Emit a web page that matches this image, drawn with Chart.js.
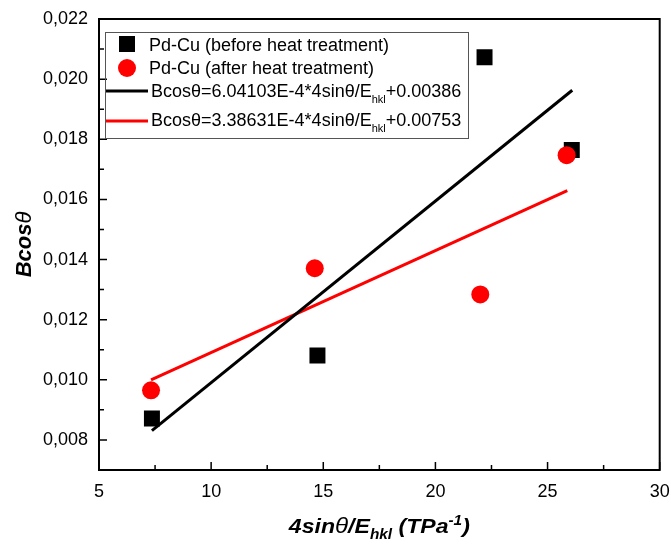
<!DOCTYPE html>
<html>
<head>
<meta charset="utf-8">
<script src="https://cdn.jsdelivr.net/npm/chart.js@4.4.1/dist/chart.umd.min.js"></script>
<style>
  html, body { margin: 0; padding: 0; background: #fff; }
  #wrap { width: 671px; height: 545px; position: relative; }
</style>
</head>
<body>
<div id="wrap"><canvas id="chart"></canvas></div>
<script>
const FONT = '"Liberation Sans", Arial, sans-serif';

// measured points
const beforeX = [7.36, 14.74, 22.19, 26.08];
const beforeY = [0.00871, 0.01081, 0.02073, 0.01764];
const afterX = [7.32, 14.62, 22.0, 25.85];
const afterY = [0.00965, 0.01371, 0.01284, 0.01747];

// linear fit end points
const fitBeforeX = [7.36, 26.1];
const fitBeforeY = [0.00831, 0.01963];
const fitAfterX = [7.32, 25.88];
const fitAfterY = [0.0100, 0.01629];

// axis ticks
const xMajor = [5, 10, 15, 20, 25, 30];
const xMinor = [7.5, 12.5, 17.5, 22.5, 27.5];
const yMajor = [0.008, 0.010, 0.012, 0.014, 0.016, 0.018, 0.020, 0.022];
const yMinor = [0.007, 0.009, 0.011, 0.013, 0.015, 0.017, 0.019, 0.021];

const toPoints = (xs, ys) => xs.map((x, i) => ({ x, y: ys[i] }));

// draw text pieces with sub/superscripts, returns width
function drawRich(ctx, parts, x, y, measureOnly) {
  let cx = x;
  for (const p of parts) {
    ctx.font = p.font;
    const w = ctx.measureText(p.t).width;
    if (!measureOnly) ctx.fillText(p.t, cx, y + (p.dy || 0));
    cx += w;
  }
  return cx - x;
}

const framePlugin = {
  id: 'frame',
  afterDraw(chart) {
    const { ctx, chartArea: a, scales } = chart;
    const xs = scales.x, ys = scales.y;
    ctx.save();
    ctx.strokeStyle = '#000';
    ctx.lineWidth = 2;
    ctx.strokeRect(a.left, a.top, a.right - a.left, a.bottom - a.top);

    ctx.lineWidth = 1.5;
    ctx.beginPath();
    xMajor.forEach(v => { const p = xs.getPixelForValue(v); ctx.moveTo(p, a.bottom); ctx.lineTo(p, a.bottom - 8); });
    xMinor.forEach(v => { const p = xs.getPixelForValue(v); ctx.moveTo(p, a.bottom); ctx.lineTo(p, a.bottom - 5); });
    yMajor.forEach(v => { const p = ys.getPixelForValue(v); ctx.moveTo(a.left, p); ctx.lineTo(a.left + 8, p); });
    yMinor.forEach(v => { const p = ys.getPixelForValue(v); ctx.moveTo(a.left, p); ctx.lineTo(a.left + 5, p); });
    ctx.stroke();

    ctx.fillStyle = '#000';
    ctx.textBaseline = 'alphabetic';
    ctx.textAlign = 'left';

    // x axis title, stretched a little to the original's width
    const bi = 'italic bold 21px ' + FONT;
    const biSmall = 'italic bold 14px ' + FONT;
    const xParts = [
      { t: '4sin', font: bi },
      { t: 'θ', font: 'italic 22px ' + FONT },
      { t: '/E', font: bi },
      { t: 'hkl', font: biSmall, dy: 6 },
      { t: ' (TPa', font: bi },
      { t: '-1', font: biSmall, dy: -8 },
      { t: ')', font: bi },
    ];
    const xw = drawRich(ctx, xParts, 0, 0, true);
    const sx = 181 / xw;
    ctx.save();
    ctx.translate((a.left + a.right) / 2 - 90.5, 533);
    ctx.scale(sx, 1);
    drawRich(ctx, xParts, 0, 0);
    ctx.restore();

    // y axis title
    const yParts = [
      { t: 'Bcos', font: 'italic bold 22px ' + FONT },
      { t: 'θ', font: 'italic 22px ' + FONT },
    ];
    ctx.save();
    ctx.translate(31, (a.top + a.bottom) / 2);
    ctx.rotate(-Math.PI / 2);
    const yw = drawRich(ctx, yParts, 0, 0, true);
    drawRich(ctx, yParts, -yw / 2, 0);
    ctx.restore();

    // legend
    ctx.lineWidth = 1;
    ctx.strokeStyle = '#555';
    ctx.strokeRect(105.5, 32.5, 363, 106);

    ctx.fillStyle = '#000';
    ctx.fillRect(119, 36, 16, 16);
    ctx.fillStyle = '#ff0000';
    ctx.beginPath();
    ctx.arc(127, 68, 9, 0, Math.PI * 2);
    ctx.fill();

    ctx.lineWidth = 3;
    ctx.strokeStyle = '#000';
    ctx.beginPath(); ctx.moveTo(106, 91); ctx.lineTo(148, 91); ctx.stroke();
    ctx.strokeStyle = '#ff0000';
    ctx.beginPath(); ctx.moveTo(106, 121); ctx.lineTo(148, 121); ctx.stroke();

    ctx.fillStyle = '#000';
    const lf = '18px ' + FONT;
    const ls = '11px ' + FONT;
    drawRich(ctx, [{ t: 'Pd-Cu (before heat treatment)', font: lf }], 149, 51);
    drawRich(ctx, [{ t: 'Pd-Cu (after heat treatment)', font: lf }], 149, 74);
    drawRich(ctx, [
      { t: 'Bcosθ=6.04103E-4*4sinθ/E', font: lf },
      { t: 'hkl', font: ls, dy: 6 },
      { t: '+0.00386', font: lf },
    ], 151, 97);
    drawRich(ctx, [
      { t: 'Bcosθ=3.38631E-4*4sinθ/E', font: lf },
      { t: 'hkl', font: ls, dy: 6 },
      { t: '+0.00753', font: lf },
    ], 151, 126);
    ctx.restore();
  },
};

new Chart(document.getElementById('chart'), {
  type: 'scatter',
  data: {
    datasets: [
      {
        label: 'Pd-Cu (before heat treatment)',
        data: toPoints(beforeX, beforeY),
        pointStyle: 'rect',
        pointRadius: 11.3,
        backgroundColor: '#000',
        borderWidth: 0,
        order: 2,
      },
      {
        label: 'Pd-Cu (after heat treatment)',
        data: toPoints(afterX, afterY),
        pointStyle: 'circle',
        pointRadius: 9,
        backgroundColor: '#ff0000',
        borderWidth: 0,
        order: 1,
      },
      {
        label: 'Bcosθ=6.04103E-4*4sinθ/Ehkl+0.00386',
        data: toPoints(fitBeforeX, fitBeforeY),
        showLine: true,
        pointRadius: 0,
        borderColor: '#000',
        borderWidth: 3,
        order: 3,
      },
      {
        label: 'Bcosθ=3.38631E-4*4sinθ/Ehkl+0.00753',
        data: toPoints(fitAfterX, fitAfterY),
        showLine: true,
        pointRadius: 0,
        borderColor: '#ff0000',
        borderWidth: 3,
        order: 4,
      },
    ],
  },
  options: {
    responsive: true,
    maintainAspectRatio: false,
    animation: false,
    layout: { padding: { top: 19, right: 11, left: 0, bottom: 0 } },
    plugins: {
      legend: { display: false },
      tooltip: { enabled: false },
    },
    scales: {
      x: {
        type: 'linear',
        min: 5,
        max: 30,
        afterBuildTicks: s => { s.ticks = xMajor.map(v => ({ value: v })); },
        afterFit: s => { s.height = 75; s.paddingRight = 0; s.paddingLeft = 0; },
        grid: { display: false, drawTicks: false },
        border: { display: false },
        ticks: { padding: 11, color: '#000', font: { family: FONT, size: 18 } },
      },
      y: {
        type: 'linear',
        min: 0.007,
        max: 0.022,
        afterBuildTicks: s => { s.ticks = yMajor.map(v => ({ value: v })); },
        afterFit: s => { s.width = 99; s.paddingTop = 0; s.paddingBottom = 0; },
        grid: { display: false, drawTicks: false },
        border: { display: false },
        ticks: {
          padding: 11,
          color: '#000',
          font: { family: FONT, size: 18 },
          callback: v => v.toFixed(3).replace('.', ','),
        },
      },
    },
  },
  plugins: [framePlugin],
});
</script>
</body>
</html>
